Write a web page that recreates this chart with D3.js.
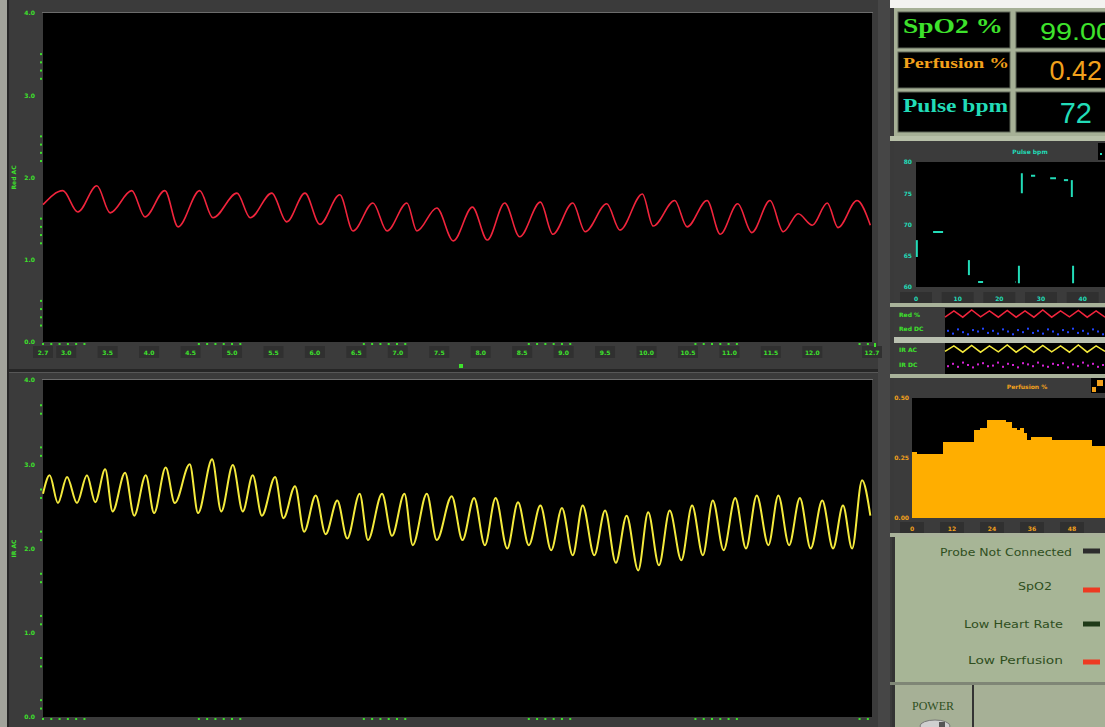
<!DOCTYPE html>
<html>
<head>
<meta charset="utf-8">
<script src="https://cdn.jsdelivr.net/npm/d3@7"></script>
<style>
    body { margin: 0; background: #fff; overflow: hidden; }
    svg { display: block; }
    .tiny { font-family: "DejaVu Sans"; font-size: 6px; font-weight: bold; }
</style>
</head>
<body>
<div id="monitor"></div>
<script>

// ---------------- data ----------------

// sweep time axis (seconds) shared by both waveform charts
const sweepStart = 2.72;
const xTicks = d3.range(3, 12.01, 0.5);
const xEdgeTicks = [2.72, 12.72];
const xMinorStarts = [2.72, 4.6, 6.59, 8.58, 10.59, 12.57];

// amplitude axis
const ampTicks = [0, 1, 2, 3, 4];
const redMinorSteps = [0.2, 0.3, 0.4, 0.5];
const irMinorSteps = [0.1, 0.2, 0.6, 0.7];

// red pleth (top chart): seconds from sweep start, amplitude
const redT = [0, .24, .42, .65, .81, 1.07, 1.23, 1.47, 1.63, 1.89, 2.05, 2.34, 2.50, 2.76, 2.94, 3.16, 3.34, 3.58, 3.74, 3.98,
    4.15, 4.39, 4.51, 4.75, 4.95, 5.18, 5.36, 5.57, 5.75, 6.00, 6.15, 6.39, 6.54, 6.80, 6.96, 7.23, 7.36, 7.62, 7.77, 8.01,
    8.17, 8.38, 8.55, 8.77, 8.93, 9.11, 9.28, 9.46, 9.59, 9.82, 9.98];
const redV = [1.67, 1.84, 1.58, 1.90, 1.57, 1.84, 1.52, 1.84, 1.40, 1.84, 1.51, 1.81, 1.51, 1.81, 1.46, 1.81, 1.43, 1.79, 1.35, 1.69,
    1.35, 1.69, 1.35, 1.63, 1.23, 1.64, 1.24, 1.69, 1.28, 1.70, 1.31, 1.69, 1.34, 1.68, 1.36, 1.80, 1.41, 1.72, 1.40, 1.72,
    1.31, 1.68, 1.33, 1.72, 1.34, 1.56, 1.42, 1.69, 1.39, 1.72, 1.42];

// infrared pleth (bottom chart)
const irT = [0, .08, .18, .29, .41, .53, .63, .75, .84, .99, 1.10, 1.24, 1.34, 1.48, 1.59, 1.77, 1.87, 2.04, 2.15, 2.29,
    2.41, 2.53, 2.64, 2.80, 2.90, 3.04, 3.15, 3.29, 3.41, 3.55, 3.67, 3.82, 3.92, 4.09, 4.21, 4.36, 4.46, 4.63, 4.75, 4.93,
    5.06, 5.20, 5.33, 5.46, 5.60, 5.73, 5.86, 6.00, 6.13, 6.26, 6.39, 6.51, 6.65, 6.78, 6.91, 7.04, 7.18, 7.30, 7.43, 7.56,
    7.70, 7.83, 7.96, 8.08, 8.21, 8.35, 8.48, 8.61, 8.75, 8.87, 9.00, 9.13, 9.26, 9.40, 9.53, 9.65, 9.76, 9.88, 9.98];
const irV = [2.65, 2.87, 2.54, 2.85, 2.54, 2.87, 2.55, 2.94, 2.44, 2.90, 2.39, 2.87, 2.42, 2.96, 2.54, 3.00, 2.42, 3.06, 2.44, 2.99,
    2.44, 2.87, 2.39, 2.85, 2.36, 2.74, 2.20, 2.63, 2.17, 2.57, 2.12, 2.65, 2.10, 2.65, 2.15, 2.65, 2.04, 2.65, 2.10, 2.62,
    2.10, 2.60, 2.04, 2.60, 2.00, 2.55, 2.04, 2.51, 1.98, 2.48, 1.92, 2.51, 1.92, 2.45, 1.83, 2.39, 1.74, 2.43, 1.80, 2.45,
    1.86, 2.51, 1.92, 2.57, 1.98, 2.60, 2.00, 2.63, 2.04, 2.63, 2.04, 2.60, 2.00, 2.57, 2.00, 2.51, 2.00, 2.81, 2.39];

// numeric readouts
const readLabels = ["SpO2 %", "Perfusion %", "Pulse bpm"];
const readValues = ["99.00", "0.42", "72"];

// pulse rate history: segments (sample, bpm) from -> to
const pulseT0 = [0.2, 4.1, 12.7, 14.9, 23.8, 24.7, 25.4, 27.6, 32.2, 35.5, 37.4, 37.7];
const pulseT1 = [0.2, 6.5, 12.7, 16.1, 23.9, 24.7, 25.4, 28.6, 33.6, 36.5, 37.4, 37.7];
const pulseV0 = [64.8, 68.8, 61.9, 60.8, 60.8, 60.6, 75.0, 77.8, 77.4, 77.1, 74.4, 60.6];
const pulseV1 = [67.5, 68.8, 64.3, 60.8, 60.8, 63.4, 78.2, 77.8, 77.4, 77.1, 77.1, 63.4];
const pulseYTicks = [60, 65, 70, 75, 80];
const pulseXTicks = [0, 10, 20, 30, 40];

// mini traces
const miniLabels = ["Red %", "Red DC", "IR AC", "IR DC"];
const miniRed = [0.1, 0.9, 0.1, 1, 0.15, 0.9, 0.1, 0.95, 0.1, 0.9, 0.1, 1, 0.1, 0.9, 0.15, 0.95, 0.1, 0.9, 0.1];
const miniYel = [0.2, 0.9, 0.1, 0.95, 0.1, 0.9, 0.15, 1, 0.1, 0.9, 0.1, 0.95, 0.15, 0.9, 0.1, 1, 0.1, 0.9, 0.2];
const miniBlue = [0.6, 0.2, 0.8, 0.4, 0.1, 0.7, 0.5, 0.9, 0.3, 0.6, 0.2, 0.8, 0.5, 0.1, 0.7, 0.4, 0.9, 0.3, 0.6, 0.2,
    0.8, 0.5, 0.1, 0.7, 0.4, 0.9, 0.3, 0.6, 0.2, 0.8, 0.5, 0.1];
const miniMag = [0.3, 0.7, 0.2, 0.9, 0.5, 0.1, 0.6, 0.8, 0.3, 0.4, 0.9, 0.2, 0.7, 0.5, 0.1, 0.8, 0.6, 0.3, 0.9, 0.4,
    0.2, 0.7, 0.5, 0.8, 0.1, 0.6, 0.3, 0.9, 0.4, 0.7, 0.2, 0.5];

// perfusion history (step chart)
const perfT = [0, 1.5, 9.3, 18.6, 20.4, 22.5, 28.2, 30.0, 31.5, 32.4, 33.6, 34.5, 35.7, 42.0, 54.0];
const perfV = [0.275, 0.267, 0.317, 0.367, 0.375, 0.408, 0.400, 0.375, 0.367, 0.375, 0.354, 0.325, 0.338, 0.325, 0.300];
const perfYTicks = [0, 0.25, 0.5];
const perfXTicks = [0, 12, 24, 36, 48];

// alarm indicators
const alarmLabels = ["Probe Not Connected", "SpO2", "Low Heart Rate", "Low Perfusion"];
const alarmOn = [false, true, false, true];


// ---------------- drawing ----------------

const GREEN = "#3ee22c";
const CYAN = "#22dcb8";
const ORANGE = "#f2a11c";

const svg = d3.select("#monitor").append("svg")
    .attr("width", 1105)
    .attr("height", 727);

// little helper: tick label boxes under an axis
function tickBoxes(g, scale, values, y, color, fmt, boxW) {
    let t = g.selectAll(null).data(values).enter().append("g")
        .attr("transform", d => "translate(" + scale(d) + "," + y + ")");
    t.append("rect")
        .attr("x", -boxW / 2).attr("width", boxW).attr("height", 12)
        .attr("fill", "#303030");
    t.append("text")
        .attr("class", "tiny")
        .attr("y", 8.5)
        .attr("text-anchor", "middle")
        .attr("fill", color)
        .text(fmt);
}

function dots(g, xs, ys, color, size) {
    g.selectAll(null).data(d3.zip(xs, ys)).enter().append("rect")
        .attr("x", d => d[0] - size / 2)
        .attr("y", d => d[1] - size / 2)
        .attr("width", size).attr("height", size)
        .attr("fill", color);
}


class WaveChart {
    constructor(parent, box, times, values, minorSteps, title, color, strokeW, showXLabels) {
        this.parent = parent;
        this.box = box;
        this.times = times;
        this.values = values;
        this.minorSteps = minorSteps;
        this.title = title;
        this.color = color;
        this.strokeW = strokeW;
        this.showXLabels = showXLabels;

        this.initVis();
    }

    initVis() {
        let vis = this;

        vis.g = vis.parent.append("g")
            .attr("transform", "translate(" + vis.box.x + "," + vis.box.y + ")");

        vis.g.append("rect")
            .attr("x", -1).attr("y", -1)
            .attr("width", vis.box.w + 2).attr("height", 1)
            .attr("fill", "#6c6c6c");
        vis.g.append("rect")
            .attr("width", vis.box.w).attr("height", vis.box.h)
            .attr("fill", "#000");

        vis.x = d3.scaleLinear().domain([sweepStart, sweepStart + 10]).range([0, vis.box.w]);
        vis.y = d3.scaleLinear().domain([0, 4]).range([vis.box.h, 0]);

        // y axis labels
        vis.g.append("g")
            .attr("class", "y-axis tiny")
            .call(d3.axisLeft(vis.y).tickValues(ampTicks).tickSize(0).tickPadding(8).tickFormat(d3.format(".1f")))
            .call(g => g.select(".domain").remove())
            .call(g => g.selectAll("text").attr("fill", GREEN).attr("class", "tiny"));

        // minor tick dots
        let minors = ampTicks.slice(0, -1).flatMap(k => vis.minorSteps.map(s => k + s));
        dots(vis.g, minors.map(() => -2), minors.map(d => vis.y(d)), GREEN, 2);

        // axis title
        vis.g.append("text")
            .attr("class", "tiny")
            .attr("transform", "translate(-27," + (vis.box.h / 2) + ") rotate(-90)")
            .attr("text-anchor", "middle")
            .attr("fill", GREEN)
            .text(vis.title);

        // x axis: minor dots and labelled boxes
        let minorX = xMinorStarts.flatMap(s => d3.range(6).map(i => s + i * 0.1))
            .filter(d => d <= sweepStart + 10);
        dots(vis.g, minorX.map(d => vis.x(d)), minorX.map(() => vis.box.h + 2), GREEN, 2);
        if (vis.showXLabels) {
            tickBoxes(vis.g, vis.x, xEdgeTicks.concat(xTicks), vis.box.h + 4, GREEN, d3.format(".1f"), 20);
        }

        vis.updateVis();
    }

    updateVis() {
        let vis = this;

        let line = d3.line()
            .x(d => vis.x(sweepStart + d[0]))
            .y(d => vis.y(d[1]))
            .curve(d3.curveMonotoneX);

        vis.g.append("path")
            .datum(d3.zip(vis.times, vis.values))
            .attr("d", line)
            .attr("fill", "none")
            .attr("stroke", vis.color)
            .attr("stroke-width", vis.strokeW)
            .attr("stroke-linejoin", "round");
    }
}


// ---- left: sweep frame ----
svg.append("rect").attr("width", 890).attr("height", 727).attr("fill", "#3b3b3b");
svg.append("rect").attr("width", 7).attr("height", 727).attr("fill", "#a2a39b");
svg.append("rect").attr("x", 7).attr("width", 2).attr("height", 727).attr("fill", "#262626");
svg.append("rect").attr("x", 9).attr("y", 369).attr("width", 881).attr("height", 3).attr("fill", "#262626");
svg.append("rect").attr("x", 9).attr("y", 372).attr("width", 881).attr("height", 1).attr("fill", "#575757");
svg.append("rect").attr("x", 878).attr("width", 12).attr("height", 727).attr("fill", "#464646");

new WaveChart(svg, {x: 43, y: 13, w: 829, h: 329}, redT, redV, redMinorSteps, "Red AC", "#f0243c", 1.6, true);
new WaveChart(svg, {x: 43, y: 380, w: 829, h: 337}, irT, irV, irMinorSteps, "IR AC", "#f4ea3c", 2, false);

// scroll cursor markers
svg.append("rect").attr("x", 459).attr("y", 364).attr("width", 4).attr("height", 4).attr("fill", GREEN);
svg.append("rect").attr("x", 874).attr("y", 343).attr("width", 2).attr("height", 4).attr("fill", GREEN);


// ---- right: numeric readouts ----
const side = svg.append("g");
side.append("rect").attr("x", 890).attr("width", 215).attr("height", 727).attr("fill", "#a6b096");
side.append("rect").attr("x", 890).attr("width", 215).attr("height", 8).attr("fill", "#f3f3f0");
side.append("rect").attr("x", 890).attr("y", 8).attr("width", 4).attr("height", 719).attr("fill", "#3a3a3a");

const rowY = [12, 52, 92];
const rowH = [36, 36, 40];
const readColor = [GREEN, ORANGE, CYAN];
const labelFont = [21, 15, 19];
const labelLen = [100, 106, 105];
const labelBase = [33, 68, 112];
const valueFont = [24, 27, 29];
const valueBase = [40, 80, 123];

readLabels.forEach((lab, i) => {
    side.append("rect").attr("x", 898).attr("y", rowY[i]).attr("width", 112).attr("height", rowH[i])
        .attr("fill", "#000").attr("stroke", "#5d6456");
    side.append("rect").attr("x", 1016).attr("y", rowY[i]).attr("width", 95).attr("height", rowH[i])
        .attr("fill", "#000").attr("stroke", "#5d6456");
    side.append("text")
        .attr("x", 903).attr("y", labelBase[i])
        .attr("font-family", "Liberation Serif").attr("font-weight", "bold")
        .attr("font-size", labelFont[i])
        .attr("textLength", labelLen[i]).attr("lengthAdjust", "spacingAndGlyphs")
        .attr("fill", readColor[i])
        .text(lab);
});
side.append("text").attr("x", 1040).attr("y", valueBase[0])
    .attr("font-family", "Liberation Sans").attr("font-size", valueFont[0])
    .attr("textLength", 72).attr("lengthAdjust", "spacingAndGlyphs")
    .attr("fill", GREEN).text(readValues[0]);
side.append("text").attr("x", 1102).attr("y", valueBase[1]).attr("text-anchor", "end")
    .attr("font-family", "Liberation Sans").attr("font-size", valueFont[1])
    .attr("fill", ORANGE).text(readValues[1]);
side.append("text").attr("x", 1092).attr("y", valueBase[2]).attr("text-anchor", "end")
    .attr("font-family", "Liberation Sans").attr("font-size", valueFont[2])
    .attr("fill", CYAN).text(readValues[2]);


// ---- pulse rate history ----
side.append("rect").attr("x", 890).attr("y", 136).attr("width", 215).attr("height", 5).attr("fill", "#b7c0a8");
side.append("rect").attr("x", 894).attr("y", 141).attr("width", 211).attr("height", 163).attr("fill", "#3b3b3b");
side.append("text").attr("class", "tiny").attr("x", 1030).attr("y", 154).attr("text-anchor", "middle")
    .attr("font-size", 8).attr("fill", CYAN).text("Pulse bpm");
side.append("rect").attr("x", 1098).attr("y", 143).attr("width", 8).attr("height", 17).attr("fill", "#000");
side.append("rect").attr("x", 1100).attr("y", 153).attr("width", 2).attr("height", 2).attr("fill", CYAN);

const pulseX = d3.scaleLinear().domain([0, 48]).range([916, 1116]);
const pulseY = d3.scaleLinear().domain([60, 80]).range([287, 162]);
side.append("rect").attr("x", 916).attr("y", 162).attr("width", 189).attr("height", 125).attr("fill", "#000");

side.append("g")
    .attr("transform", "translate(916,0)")
    .call(d3.axisLeft(pulseY).tickValues(pulseYTicks).tickSize(0).tickPadding(4))
    .call(g => g.select(".domain").remove())
    .call(g => g.selectAll("text").attr("class", "tiny").attr("fill", CYAN));
tickBoxes(side, pulseX, pulseXTicks, 292, CYAN, d3.format("d"), 32);

side.selectAll(".pulseSeg")
    .data(d3.range(pulseT0.length))
    .enter().append("line")
    .attr("class", "pulseSeg")
    .attr("x1", i => pulseX(pulseT0[i]))
    .attr("x2", i => pulseX(pulseT1[i]))
    .attr("y1", i => pulseY(pulseV0[i]))
    .attr("y2", i => pulseY(pulseV1[i]))
    .attr("stroke", CYAN)
    .attr("stroke-width", 2);


// ---- mini traces ----
side.append("rect").attr("x", 890).attr("y", 303).attr("width", 215).attr("height", 4).attr("fill", "#a9b29a");
side.append("rect").attr("x", 894).attr("y", 307).attr("width", 211).attr("height", 69).attr("fill", "#3b3b3b");
side.append("rect").attr("x", 945).attr("y", 308).attr("width", 160).attr("height", 29).attr("fill", "#000");
side.append("rect").attr("x", 945).attr("y", 343).attr("width", 160).attr("height", 31).attr("fill", "#000");
side.append("rect").attr("x", 894).attr("y", 337).attr("width", 211).attr("height", 6).attr("fill", "#b9c0b0");

const miniLabelY = [317, 331, 352, 367];
miniLabels.forEach((lab, i) => {
    side.append("text").attr("class", "tiny").attr("x", 899).attr("y", miniLabelY[i])
        .attr("fill", GREEN).text(lab);
});

function miniLine(values, top, bottom, color) {
    let x = d3.scaleLinear().domain([0, values.length - 1]).range([945, 1105]);
    let y = d3.scaleLinear().domain([0, 1]).range([bottom, top]);
    side.append("path")
        .datum(values)
        .attr("d", d3.line().x((d, i) => x(i)).y(d => y(d)))
        .attr("fill", "none").attr("stroke", color).attr("stroke-width", 1.5);
}
function miniDots(values, top, bottom, color) {
    let x = d3.scaleLinear().domain([0, values.length - 1]).range([948, 1103]);
    let y = d3.scaleLinear().domain([0, 1]).range([bottom, top]);
    dots(side, values.map((d, i) => x(i)), values.map(d => y(d)), color, 2);
}
miniLine(miniRed, 310, 318, "#f0243c");
miniDots(miniBlue, 328, 335, "#2244ff");
miniLine(miniYel, 345, 353, "#f4ea3c");
miniDots(miniMag, 362, 368, "#d424d4");


// ---- perfusion history ----
side.append("rect").attr("x", 890).attr("y", 374).attr("width", 215).attr("height", 4).attr("fill", "#a9b29a");
side.append("rect").attr("x", 894).attr("y", 378).attr("width", 211).attr("height", 156).attr("fill", "#3b3b3b");
side.append("text").attr("class", "tiny").attr("x", 1027).attr("y", 389).attr("text-anchor", "middle")
    .attr("font-size", 8).attr("fill", ORANGE).text("Perfusion %");
side.append("rect").attr("x", 1091).attr("y", 378).attr("width", 14).attr("height", 15).attr("fill", "#000");
side.append("rect").attr("x", 1097).attr("y", 380).attr("width", 6).attr("height", 6).attr("fill", ORANGE);
side.append("rect").attr("x", 1092).attr("y", 387).attr("width", 4).attr("height", 5).attr("fill", ORANGE);

const perfX = d3.scaleLinear().domain([0, 60]).range([912, 1112]);
const perfY = d3.scaleLinear().domain([0, 0.5]).range([518, 398]);
side.append("rect").attr("x", 912).attr("y", 398).attr("width", 193).attr("height", 120).attr("fill", "#000");

let perfData = perfT.map((t, i) => [t, perfV[i]]);
perfData.push([60, perfV[perfV.length - 1]]);
side.append("path")
    .datum(perfData)
    .attr("d", d3.area().x(d => perfX(d[0])).y0(perfY(0)).y1(d => perfY(d[1])).curve(d3.curveStepAfter))
    .attr("fill", "#ffae00");

side.append("g")
    .attr("transform", "translate(912,0)")
    .call(d3.axisLeft(perfY).tickValues(perfYTicks).tickSize(0).tickPadding(3).tickFormat(d3.format(".2f")))
    .call(g => g.select(".domain").remove())
    .call(g => g.selectAll("text").attr("class", "tiny").attr("fill", ORANGE));
tickBoxes(side, perfX, perfXTicks, 522, ORANGE, d3.format("d"), 24);


// ---- alarm indicators ----
side.append("rect").attr("x", 890).attr("y", 533).attr("width", 215).attr("height", 4).attr("fill", "#a9b29a");
side.append("rect").attr("x", 894).attr("y", 537).attr("width", 211).attr("height", 145).attr("fill", "#a7b596");
side.append("rect").attr("x", 892).attr("y", 537).attr("width", 3).attr("height", 147).attr("fill", "#333");

const alarmX = [940, 1018, 964, 968];
const alarmLen = [132, 34, 99, 95];
const alarmTextY = [556, 590, 628, 664];
const alarmLedY = [551, 590, 624, 662];
alarmLabels.forEach((lab, i) => {
    side.append("text")
        .attr("x", alarmX[i]).attr("y", alarmTextY[i])
        .attr("font-family", "DejaVu Sans").attr("font-size", 11)
        .attr("textLength", alarmLen[i]).attr("lengthAdjust", "spacingAndGlyphs")
        .attr("fill", "#2f4f1e")
        .text(lab);
    side.append("rect")
        .attr("x", 1083).attr("y", alarmLedY[i] - 2.5).attr("width", 17).attr("height", 5)
        .attr("fill", alarmOn[i] ? "#ee3a22" : (i === 0 ? "#2c2c2c" : "#1f3a18"));
});

// ---- power switch ----
side.append("rect").attr("x", 890).attr("y", 682).attr("width", 215).attr("height", 3).attr("fill", "#7f8676");
side.append("rect").attr("x", 892).attr("y", 685).attr("width", 3).attr("height", 42).attr("fill", "#333");
side.append("rect").attr("x", 972).attr("y", 685).attr("width", 2).attr("height", 42).attr("fill", "#333");
side.append("text")
    .attr("x", 933).attr("y", 710).attr("text-anchor", "middle")
    .attr("font-family", "Liberation Serif").attr("font-size", 12)
    .attr("fill", "#2f4f1e")
    .text("POWER");
side.append("ellipse").attr("cx", 935).attr("cy", 726).attr("rx", 15).attr("ry", 6)
    .attr("fill", "#cfcfcf").attr("stroke", "#777");
side.append("rect").attr("x", 939).attr("y", 722).attr("width", 6).attr("height", 5).attr("fill", "#555");

</script>
</body>
</html>
